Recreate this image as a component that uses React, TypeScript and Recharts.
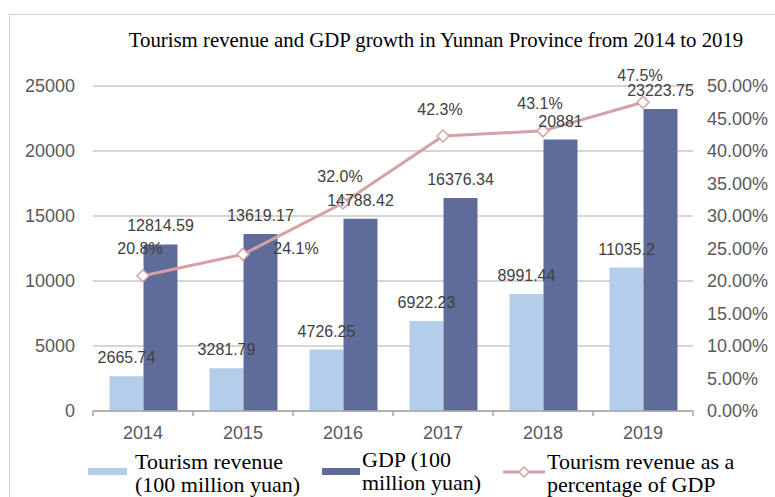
import React from "react";
import {
  ComposedChart,
  Bar,
  Line,
  XAxis,
  YAxis,
  CartesianGrid,
  LabelList,
  Legend,
  Customized,
} from "recharts";

const years = ["2014", "2015", "2016", "2017", "2018", "2019"];
const tourismRevenue = [2665.74, 3281.79, 4726.25, 6922.23, 8991.44, 11035.2];
const gdp = [12814.59, 13619.17, 14788.42, 16376.34, 20881, 23223.75];
const tourismShare = [20.8, 24.1, 32.0, 42.3, 43.1, 47.5];
const leftTicks = [0, 5000, 10000, 15000, 20000, 25000];
const rightTicks = [0, 5, 10, 15, 20, 25, 30, 35, 40, 45, 50];

const TITLE = "Tourism revenue and GDP growth in Yunnan Province from 2014 to 2019";

const rows = years.map((y, i) => ({
  year: y,
  tourism: tourismRevenue[i],
  gdp: gdp[i],
  share: tourismShare[i],
}));

const LIGHT = "#B3CDEA";
const DARK = "#5F6C99";
const PINK = "#D5A1A5";
const SERIF = "'Liberation Serif', 'Times New Roman', serif";
const SANS = "'Liberation Sans', Arial, sans-serif";
const AXIS_GREY = "#A6A6A6";

const Diamond = (props: any) => {
  const { cx, cy } = props;
  if (cx == null || cy == null) return null;
  const r = 6;
  return (
    <polygon
      points={`${cx},${cy - r} ${cx + r},${cy} ${cx},${cy + r} ${cx - r},${cy}`}
      fill="#FFFFFF"
      stroke={PINK}
      strokeWidth={1.5}
    />
  );
};

// labels right of the point for these indices, otherwise above
const RIGHT_LABEL = new Set([1]);

const ShareLabel = (props: any) => {
  const { x, y, value, index } = props;
  if (x == null || y == null) return null;
  const right = RIGHT_LABEL.has(index);
  const dx = right ? 53 : -3;
  const dy = right ? -0.5 : -21.5;
  return (
    <text
      x={x + dx}
      y={y + dy}
      textAnchor="middle"
      fontSize={16}
      fontFamily={SANS}
      fill="#404040"
    >
      {Number(value).toFixed(1) + "%"}
    </text>
  );
};

const YearTick = (props: any) => {
  const { x, y, payload, index, visibleTicksCount } = props;
  const half = payload && payload.offset ? payload.offset : 50;
  const axisY = y - 15;
  const isLast = index === (visibleTicksCount ?? years.length) - 1;
  return (
    <g>
      <line x1={x - half} y1={axisY} x2={x - half} y2={axisY + 5} stroke={AXIS_GREY} strokeWidth={1.5} />
      {isLast && (
        <line x1={x + half} y1={axisY} x2={x + half} y2={axisY + 5} stroke={AXIS_GREY} strokeWidth={1.5} />
      )}
      <text x={x} y={y + 13} textAnchor="middle" fontSize={18} fontFamily={SANS} fill="#595959">
        {payload.value}
      </text>
    </g>
  );
};

const Decor = () => (
  <g>
    <rect x={9.5} y={14.5} width={900} height={600} fill="none" stroke="#CFCFCF" strokeWidth={1} />
    <text x={436} y={47} textAnchor="middle" fontSize={20.8} fontFamily={SERIF} fill="#000000">
      {TITLE}
    </text>
  </g>
);

const legendText: React.CSSProperties = {
  position: "absolute",
  fontFamily: SERIF,
  fontSize: 22,
  lineHeight: "23px",
  color: "#000000",
  whiteSpace: "nowrap",
  textAlign: "left",
};

const LegendContent = () => (
  <div style={{ position: "relative", width: 775, height: 50 }}>
    <div style={{ position: "absolute", left: 88, top: 21, width: 39, height: 7, background: LIGHT }} />
    <div style={{ ...legendText, left: 135, top: 3 }}>
      Tourism revenue
      <br />
      (100 million yuan)
    </div>
    <div style={{ position: "absolute", left: 322, top: 21, width: 38, height: 7, background: DARK }} />
    <div style={{ ...legendText, left: 362, top: 1 }}>
      GDP (100
      <br />
      million yuan)
    </div>
    <svg style={{ position: "absolute", left: 500, top: 15 }} width={48} height={20}>
      <line x1={3} y1={10} x2={45} y2={10} stroke={PINK} strokeWidth={3} />
      <polygon points="24,5 29,10 24,15 19,10" fill="#FFFFFF" stroke={PINK} strokeWidth={1.5} />
    </svg>
    <div style={{ ...legendText, left: 547, top: 3 }}>
      Tourism revenue as a
      <br />
      percentage of GDP
    </div>
  </div>
);

export default function App() {
  return (
    <div style={{ position: "absolute", left: 0, top: 0, width: 775, height: 497, background: "#FFFFFF", overflow: "hidden" }}>
      <ComposedChart
        width={775}
        height={497}
        data={rows}
        margin={{ top: 86, right: 0, left: 0, bottom: 0 }}
        barCategoryGap="16.5%"
        barGap={0}
      >
        <Customized component={Decor} />
        <CartesianGrid vertical={false} yAxisId="left" stroke="#C8C8C8" strokeWidth={1.5} />
        <XAxis
          dataKey="year"
          height={36}
          tickSize={0}
          tickMargin={15}
          axisLine={{ stroke: AXIS_GREY, strokeWidth: 1.5 }}
          tick={<YearTick />}
        />
        <YAxis
          yAxisId="left"
          width={93}
          domain={[0, 25000]}
          ticks={leftTicks}
          axisLine={false}
          tickSize={0}
          tickMargin={18}
          tick={{ fontSize: 18, fill: "#595959", fontFamily: SANS }}
        />
        <YAxis
          yAxisId="right"
          orientation="right"
          width={82}
          domain={[0, 50]}
          ticks={rightTicks}
          axisLine={false}
          tickSize={0}
          tickMargin={14}
          tickFormatter={(v: number) => v.toFixed(2) + "%"}
          tick={{ fontSize: 18, fill: "#595959", fontFamily: SANS }}
        />
        <Bar yAxisId="left" dataKey="tourism" fill={LIGHT} isAnimationActive={false}>
          <LabelList
            dataKey="tourism"
            position="top"
            offset={13}
            style={{ fontSize: 16, fill: "#404040", fontFamily: SANS }}
          />
        </Bar>
        <Bar yAxisId="left" dataKey="gdp" fill={DARK} isAnimationActive={false}>
          <LabelList
            dataKey="gdp"
            position="top"
            offset={13}
            style={{ fontSize: 16, fill: "#404040", fontFamily: SANS }}
          />
        </Bar>
        <Line
          yAxisId="right"
          dataKey="share"
          stroke={PINK}
          strokeWidth={3}
          dot={<Diamond />}
          activeDot={false}
          label={<ShareLabel />}
          isAnimationActive={false}
        />
        <Legend verticalAlign="bottom" content={<LegendContent />} />
      </ComposedChart>
    </div>
  );
}
